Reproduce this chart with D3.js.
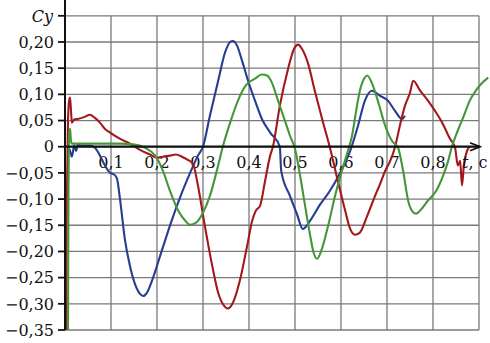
<!DOCTYPE html>
<html>
<head>
<meta charset="utf-8">
<script src="https://cdn.jsdelivr.net/npm/d3@7"></script>
<style>
  body { margin: 0; background: #fff; }
  svg { display: block; }
  text { font-family: "DejaVu Serif", "Liberation Serif", serif; font-size: 16px; fill: #111; }
</style>
</head>
<body>
<div id="graph"></div>
<script>
var width = 490, height = 343

// tick values
var yTicks = [0.25, 0.20, 0.15, 0.10, 0.05, 0, -0.05, -0.10, -0.15, -0.20, -0.25, -0.30, -0.35]
var yLabels = ['', '0,20', '0,15', '0,10', '0,05', '0', '\u22120,05', '\u22120,10', '\u22120,15', '\u22120,20', '\u22120,25', '\u22120,30', '\u22120,35']
var xTicks = [0.1, 0.2, 0.3, 0.4, 0.5, 0.6, 0.7, 0.8, 0.9]
var xLabels = ['0,1', '0,2', '0,3', '0,4', '0,5', '0,6', '0,7', '0,8', '']

// series: [t, Cy]
var blue = [[0.0065,0],[0.011,-0.008],[0.015,-0.019],[0.020,0.002],[0.024,-0.008],[0.028,0.004],[0.037,0.002],
  [0.054,0.002],[0.065,-0.002],[0.076,-0.017],[0.087,-0.036],[0.098,-0.050],[0.107,-0.053],[0.113,-0.061],
  [0.120,-0.103],[0.130,-0.176],[0.141,-0.227],[0.152,-0.262],[0.163,-0.281],[0.170,-0.285],[0.178,-0.279],
  [0.189,-0.256],[0.207,-0.208],[0.228,-0.151],[0.250,-0.097],[0.272,-0.050],[0.289,-0.017],[0.300,0],
  [0.315,0.059],[0.333,0.126],[0.348,0.180],[0.359,0.200],[0.365,0.202],[0.374,0.193],[0.385,0.164],
  [0.398,0.126],[0.413,0.088],[0.428,0.053],[0.446,0.027],[0.467,0],[0.470,-0.046],[0.489,-0.094],
  [0.504,-0.128],[0.517,-0.157],[0.533,-0.141],[0.554,-0.111],[0.576,-0.084],[0.598,-0.050],[0.620,-0.008],
  [0.637,0.040],[0.652,0.088],[0.667,0.107],[0.685,0.097],[0.702,0.088],[0.717,0.069],[0.733,0.053],[0.739,0.059]]

var red = [[0.002,-0.35],[0.004,-0.103],[0.0065,0.050],[0.009,0.088],[0.011,0.094],[0.013,0.069],[0.015,0.046],
  [0.020,0.052],[0.028,0.053],[0.043,0.057],[0.054,0.061],[0.065,0.055],[0.076,0.046],[0.087,0.034],
  [0.098,0.027],[0.120,0.015],[0.141,0.006],[0.163,-0.006],[0.185,-0.015],[0.200,-0.021],[0.213,-0.019],
  [0.228,-0.017],[0.241,-0.015],[0.254,-0.019],[0.267,-0.025],[0.278,-0.032],[0.289,-0.074],[0.304,-0.151],
  [0.320,-0.227],[0.333,-0.279],[0.346,-0.304],[0.354,-0.309],[0.365,-0.298],[0.380,-0.256],[0.396,-0.189],
  [0.407,-0.141],[0.415,-0.122],[0.424,-0.113],[0.435,-0.065],[0.446,-0.017],[0.452,0],[0.467,0.078],
  [0.485,0.149],[0.498,0.187],[0.507,0.195],[0.515,0.187],[0.528,0.160],[0.543,0.107],[0.559,0.053],
  [0.576,-0.002],[0.593,-0.065],[0.609,-0.122],[0.620,-0.157],[0.630,-0.168],[0.641,-0.164],[0.657,-0.132],
  [0.674,-0.094],[0.685,-0.071],[0.696,-0.046],[0.707,-0.027],[0.717,-0.002],[0.728,0.040],[0.739,0.078],
  [0.750,0.103],[0.757,0.126],[0.772,0.107],[0.789,0.088],[0.804,0.069],[0.820,0.046],[0.837,0.015],
  [0.848,-0.002],[0.854,-0.036],[0.859,-0.027],[0.863,-0.074],[0.867,-0.036],[0.874,-0.008],[0.880,0]]

var green = [[0.0065,-0.35],[0.0075,-0.103],[0.009,0.021],[0.011,0.034],[0.013,0.011],[0.015,0.006],
  [0.033,0.006],[0.076,0.006],[0.120,0.006],[0.152,0.004],[0.174,-0.002],[0.196,-0.017],[0.213,-0.046],
  [0.228,-0.084],[0.246,-0.122],[0.261,-0.141],[0.272,-0.149],[0.285,-0.145],[0.300,-0.126],[0.315,-0.094],
  [0.330,-0.046],[0.343,0],[0.359,0.046],[0.376,0.088],[0.393,0.117],[0.413,0.130],[0.428,0.138],
  [0.439,0.136],[0.450,0.122],[0.463,0.088],[0.478,0.050],[0.489,0.021],[0.500,-0.004],[0.511,-0.055],
  [0.522,-0.113],[0.533,-0.170],[0.541,-0.204],[0.548,-0.214],[0.557,-0.199],[0.572,-0.151],[0.587,-0.094],
  [0.602,-0.046],[0.615,-0.008],[0.624,0.021],[0.633,0.069],[0.641,0.107],[0.650,0.130],[0.657,0.136],
  [0.667,0.122],[0.680,0.088],[0.696,0.040],[0.711,0.011],[0.724,-0.002],[0.735,-0.046],[0.746,-0.103],
  [0.754,-0.122],[0.763,-0.128],[0.772,-0.122],[0.789,-0.103],[0.807,-0.084],[0.822,-0.055],[0.833,-0.027],
  [0.841,0],[0.854,0.031],[0.867,0.059],[0.880,0.088],[0.893,0.107],[0.907,0.122],[0.920,0.132]]

var series = [
  {data: blue, color: '#263d93'},
  {data: red, color: '#a3181c'},
  {data: green, color: '#449638'}
]

var x = d3.scaleLinear().domain([0, 0.9]).range([65, 479])
var y = d3.scaleLinear().domain([-0.35, 0.25]).range([330, 15.8])

var svg = d3.select('#graph').append('svg')
    .attr('width', width).attr('height', height)

// grid
svg.append('g').selectAll('line').data(yTicks).join('line')
    .attr('x1', x(0)).attr('x2', x(0.9))
    .attr('y1', d => y(d)).attr('y2', d => y(d))
    .attr('stroke', '#7a7a7a').attr('stroke-width', 1.3)

svg.append('g').selectAll('line').data(xTicks).join('line')
    .attr('x1', d => x(d)).attr('x2', d => x(d))
    .attr('y1', y(-0.35)).attr('y2', y(0.25))
    .attr('stroke', '#7a7a7a').attr('stroke-width', 1.3)

// y ticks + labels
svg.append('g').selectAll('line').data(yTicks).join('line')
    .attr('x1', x(0) - 7).attr('x2', x(0))
    .attr('y1', d => y(d)).attr('y2', d => y(d))
    .attr('stroke', '#111').attr('stroke-width', 1.8)

svg.append('g').selectAll('text').data(yTicks).join('text')
    .attr('x', 54).attr('y', d => y(d)).attr('dy', '0.36em')
    .attr('text-anchor', 'end')
    .text((d, i) => yLabels[i])

svg.append('g').selectAll('text').data(xTicks).join('text')
    .attr('x', d => x(d)).attr('y', 168)
    .attr('text-anchor', 'middle')
    .text((d, i) => xLabels[i])

// curves
var line = d3.line().x(d => x(d[0])).y(d => y(d[1])).curve(d3.curveMonotoneX)

svg.append('g').selectAll('path').data(series).join('path')
    .attr('d', d => line(d.data))
    .attr('fill', 'none')
    .attr('stroke', d => d.color)
    .attr('stroke-width', 2.1)
    .attr('stroke-linejoin', 'round')

// axes with arrows
var x0 = x(0), y0 = y(0), top = y(0.25) + 1.5, right = x(0.9) + 1
svg.append('line').attr('x1', x0).attr('x2', x0).attr('y1', y(-0.35)).attr('y2', top)
    .attr('stroke', '#111').attr('stroke-width', 2)
svg.append('path').attr('d', `M${x0 - 4},${top + 9}L${x0},${top}L${x0 + 4},${top + 9}`)
    .attr('fill', 'none').attr('stroke', '#111').attr('stroke-width', 1.8)
svg.append('line').attr('x1', x0).attr('x2', right).attr('y1', y0).attr('y2', y0)
    .attr('stroke', '#111').attr('stroke-width', 2.2)
svg.append('path').attr('d', `M${right - 10},${y0 - 4}L${right},${y0}L${right - 10},${y0 + 4}`)
    .attr('fill', 'none').attr('stroke', '#111').attr('stroke-width', 1.8)

svg.append('text').attr('x', 53).attr('y', 22).attr('text-anchor', 'end')
    .style('font-style', 'italic').text('Cy')

var tl = svg.append('text').attr('x', 462).attr('y', 168)
tl.append('tspan').style('font-style', 'italic').text('t')
tl.append('tspan').text(', c')
</script>
</body>
</html>
